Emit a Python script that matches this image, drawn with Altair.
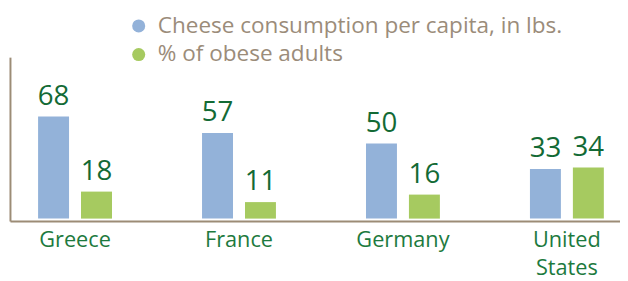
import altair as alt
import pandas as pd

countries = ["Greece", "France", "Germany", "United States"]
cheese = [68, 57, 50, 33]
obese = [18, 11, 16, 34]
series = ["Cheese consumption per capita, in lbs.", "% of obese adults"]
colors = ["#93b2d9", "#a6ca60"]

rows = []
for c, a, b in zip(countries, cheese, obese):
    rows.append({"country": c, "series": series[0], "value": a})
    rows.append({"country": c, "series": series[1], "value": b})
df = pd.DataFrame(rows)

FONT = "Open Sans"
AXIS_COLOR = "#9c8c76"
VALUE_COLOR = "#136a35"
CAT_COLOR = "#1d7a3e"
LEGEND_COLOR = "#9b8c7a"

x = alt.X(
    "country:N", sort=countries, title=None,
    scale=alt.Scale(paddingInner=0.5493, paddingOuter=0.135, align=0.635),
    axis=alt.Axis(labelExpr="split(datum.label, ' ')", labelAngle=0, ticks=False,
                  domainColor=AXIS_COLOR, domainWidth=2, labelFont=FONT,
                  labelFontSize=22, labelColor=CAT_COLOR, labelPadding=9,
                  labelLineHeight=28, labelBaseline="top"),
)
xoff = alt.XOffset("series:N", sort=series,
                   scale=alt.Scale(paddingInner=0.279, paddingOuter=0))
y = alt.Y("value:Q", title=None,
          scale=alt.Scale(domain=[-1.6, 107.6], nice=False, zero=False),
          axis=alt.Axis(labels=False, ticks=False, grid=False,
                        domainColor=AXIS_COLOR, domainWidth=2))

base = alt.Chart(df)

bars = base.mark_bar().encode(
    x=x, xOffset=xoff, y=y, y2=alt.datum(0),
    color=alt.Color("series:N", sort=series,
                    scale=alt.Scale(domain=series, range=colors),
                    legend=alt.Legend(orient="none", legendX=119, legendY=-43,
                                      title=None, symbolType="circle",
                                      symbolSize=175, symbolStrokeWidth=0,
                                      labelFont=FONT, labelFontSize=22.8,
                                      labelLimit=0,
                                      labelColor=LEGEND_COLOR, labelOffset=8,
                                      rowPadding=5)),
)

labels = base.mark_text(dy=-12, baseline="alphabetic", fontSize=28, font=FONT,
                        fontWeight=500, color=VALUE_COLOR).encode(
    x=x, xOffset=xoff, y=alt.Y("value:Q"), text=alt.Text("value:Q"),
)

chart = alt.layer(bars, labels).properties(
    width=618, height=166,
    autosize=alt.AutoSizeParams(type="none"),
    padding={"left": 2, "top": 48, "right": 0, "bottom": 60},
).configure_view(stroke=None)

chart.save("out.html", embed_options={"renderer": "svg", "actions": False})
